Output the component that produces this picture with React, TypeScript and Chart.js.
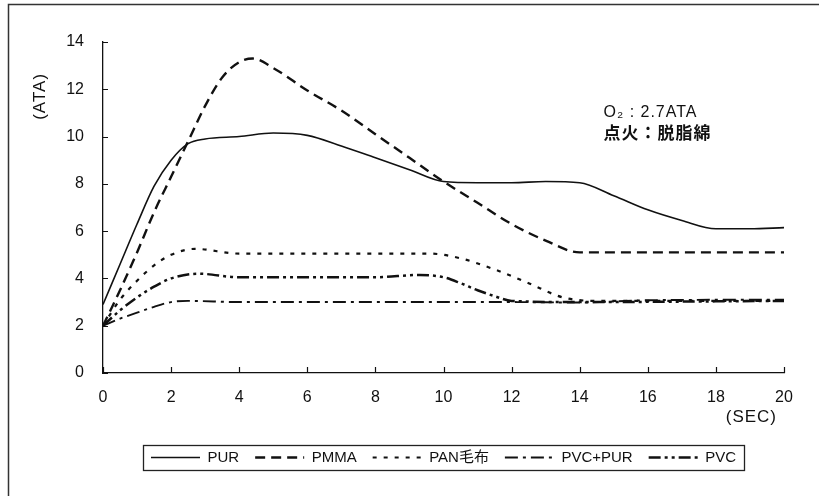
import React, { useEffect, useRef } from "react";
import { Chart, registerables } from "chart.js";

Chart.register(...registerables);

// ---------- data ----------
const SERIES_NAMES = ["PUR", "PMMA", "PAN毛布", "PVC+PUR", "PVC"];

const X_PUR = [0, 0.5, 1, 1.5, 2, 2.5, 3, 4, 5, 6, 7, 8, 9, 10, 11, 12, 13, 14, 15, 16, 17, 18, 19, 20];
const Y_PUR = [2.9, 4.6, 6.3, 7.9, 9.0, 9.7, 9.9, 10.0, 10.15, 10.05, 9.6, 9.1, 8.6, 8.1, 8.05, 8.05, 8.1, 8.05, 7.5, 6.9, 6.45, 6.1, 6.1, 6.15];

const X_PMMA = [0, 0.5, 1, 1.5, 2, 2.5, 3, 3.5, 4, 4.4, 5, 6, 7, 8, 9, 10, 11, 12, 13, 14, 15, 16, 17, 18, 19, 20];
const Y_PMMA = [2.0, 3.5, 5.1, 6.8, 8.3, 9.8, 11.3, 12.5, 13.15, 13.3, 12.9, 11.95, 11.1, 10.1, 9.1, 8.1, 7.2, 6.3, 5.6, 5.1, 5.1, 5.1, 5.1, 5.1, 5.1, 5.1];

const X_PAN = [0, 0.5, 1, 1.5, 2, 2.7, 4, 6, 8, 9.6, 10.5, 11.5, 12.5, 13.5, 14.5, 20];
const Y_PAN = [2.0, 3.1, 3.9, 4.55, 5.0, 5.25, 5.05, 5.05, 5.05, 5.05, 4.85, 4.38, 3.8, 3.2, 3.05, 3.05];

const X_PVCPUR = [0, 0.5, 1, 1.5, 2, 2.5, 4, 8, 12, 14, 16, 20];
const Y_PVCPUR = [2.0, 2.3, 2.55, 2.8, 3.0, 3.05, 3.0, 3.0, 3.0, 2.98, 3.08, 3.1];

const X_PVC = [0, 0.5, 1, 1.5, 2, 2.8, 4, 6, 8, 9.3, 10, 10.5, 11, 11.5, 12, 14, 20];
const Y_PVC = [2.0, 2.65, 3.2, 3.65, 4.0, 4.2, 4.05, 4.05, 4.05, 4.15, 4.05, 3.8, 3.5, 3.25, 3.05, 3.0, 3.05];

const X_TICK_VALUES = [0, 2, 4, 6, 8, 10, 12, 14, 16, 18, 20];
const Y_TICK_VALUES = [0, 2, 4, 6, 8, 10, 12, 14];

const Y_TITLE = "(ATA)";
const X_TITLE = "(SEC)";
const NOTE_LINE_1 = "O₂ : 2.7ATA";
const NOTE_LINE_2 = "点火：脱脂綿";

// ---------- styles ----------
const FONT = "'Liberation Sans', 'Noto Sans CJK JP', sans-serif";
const CJK = "'Noto Sans CJK JP', 'Liberation Sans', sans-serif";
const INK = "#111111";

const pts = (xs: number[], ys: number[]) => xs.map((x, i) => ({ x, y: ys[i] }));

const decorPlugin = {
  id: "decor",
  beforeDraw(chart: any) {
    const { ctx, width, height } = chart;
    ctx.save();
    ctx.fillStyle = "#ffffff";
    ctx.fillRect(0, 0, width, height);
    ctx.strokeStyle = "#333";
    ctx.lineWidth = 1.5;
    ctx.beginPath();
    ctx.moveTo(8.5, height + 2);
    ctx.lineTo(8.5, 4.5);
    ctx.lineTo(width + 2, 4.5);
    ctx.stroke();
    ctx.restore();
  },
  afterDraw(chart: any) {
    const { ctx, chartArea } = chart;
    const xs = chart.scales.x;
    const ys = chart.scales.y;
    ctx.save();
    ctx.strokeStyle = INK;
    ctx.lineWidth = 1.2;
    ctx.setLineDash([]);
    // inward tick marks
    ctx.beginPath();
    Y_TICK_VALUES.forEach((v) => {
      const py = Math.round(ys.getPixelForValue(v)) + 0.5;
      ctx.moveTo(chartArea.left, py);
      ctx.lineTo(chartArea.left + 5, py);
    });
    X_TICK_VALUES.forEach((v) => {
      const px = Math.round(xs.getPixelForValue(v)) + 0.5;
      ctx.moveTo(px, chartArea.bottom);
      ctx.lineTo(px, chartArea.bottom - 6);
    });
    ctx.stroke();

    // axis titles
    ctx.fillStyle = INK;
    ctx.font = `17px ${FONT}`;
    try { (ctx as any).letterSpacing = "1px"; } catch (e) {}
    ctx.textAlign = "center";
    ctx.textBaseline = "middle";
    ctx.save();
    ctx.translate(40, ys.getPixelForValue(11.7));
    ctx.rotate(-Math.PI / 2);
    ctx.fillText(Y_TITLE, 0, 0);
    ctx.restore();
    ctx.textAlign = "right";
    ctx.fillText(X_TITLE, xs.getPixelForValue(20) - 7, chartArea.bottom + 44);

    // note
    ctx.textAlign = "left";
    ctx.font = `16px ${FONT}`;
    ctx.fillText(NOTE_LINE_1, xs.getPixelForValue(14.7), ys.getPixelForValue(11.0));
    ctx.font = `bold 17px ${CJK}`;
    ctx.fillText(NOTE_LINE_2, xs.getPixelForValue(14.7), ys.getPixelForValue(10.15));
    try { (ctx as any).letterSpacing = "0px"; } catch (e) {}

    // legend frame
    const lg = chart.legend;
    if (lg && lg.legendHitBoxes && lg.legendHitBoxes.length) {
      const boxes = lg.legendHitBoxes;
      const l = Math.min(...boxes.map((b: any) => b.left)) - 8;
      const r = Math.max(...boxes.map((b: any) => b.left + b.width)) + 8;
      const t = Math.min(...boxes.map((b: any) => b.top)) - 5;
      const btm = Math.max(...boxes.map((b: any) => b.top + b.height)) + 5;
      ctx.lineWidth = 1.3;
      ctx.strokeStyle = "#222";
      ctx.strokeRect(Math.round(l) + 0.5, Math.round(t) + 0.5, Math.round(r - l), Math.round(btm - t));
    }
    ctx.restore();
  },
};

export default function App() {
  const ref = useRef<HTMLCanvasElement | null>(null);

  useEffect(() => {
    if (!ref.current) return;
    const mk = (i: number, xs: number[], ys: number[], dash: number[], w: number) => ({
      label: SERIES_NAMES[i],
      data: pts(xs, ys),
      borderColor: INK,
      backgroundColor: INK,
      borderWidth: w,
      borderDash: dash,
      pointRadius: 0,
      fill: false,
      cubicInterpolationMode: "monotone" as const,
      pointStyle: "line" as const,
    });
    const defaultLabels = (Chart.defaults as any).plugins.legend.labels.generateLabels;
    const chart = new Chart(ref.current, {
      type: "line",
      data: {
        datasets: [
          mk(0, X_PUR, Y_PUR, [], 1.6),
          mk(1, X_PMMA, Y_PMMA, [10, 6], 2.4),
          mk(2, X_PAN, Y_PAN, [4, 7], 2.2),
          mk(3, X_PVCPUR, Y_PVCPUR, [13, 5, 3, 5], 1.9),
          mk(4, X_PVC, Y_PVC, [12, 4, 3, 4, 3, 4], 2.5),
        ],
      },
      plugins: [decorPlugin],
      options: {
        animation: false,
        responsive: false,
        maintainAspectRatio: false,
        layout: { padding: { left: 10, right: 35, top: 42, bottom: 21 } },
        plugins: {
          tooltip: { enabled: false },
          title: { display: false },
          legend: {
            display: true,
            position: "bottom",
            fullSize: false,
            labels: {
              color: INK,
              font: { family: FONT, size: 15 },
              usePointStyle: true,
              pointStyle: "line",
              pointStyleWidth: 49,
              padding: 16,
              generateLabels: (c: any) =>
                defaultLabels(c).map((item: any) => {
                  const ds = c.data.datasets[item.datasetIndex];
                  return { ...item, lineDash: ds.borderDash, lineWidth: ds.borderWidth, strokeStyle: INK };
                }),
            },
          },
        },
        scales: {
          x: {
            type: "linear",
            min: 0,
            max: 20,
            afterBuildTicks: (s: any) => {
              s.ticks = X_TICK_VALUES.map((v) => ({ value: v }));
            },
            afterFit: (s: any) => {
              s.height = 61;
            },
            ticks: { color: INK, font: { family: FONT, size: 16 }, padding: 15, maxRotation: 0, autoSkip: false },
            grid: { display: true, drawOnChartArea: false, drawTicks: false, color: INK },
            border: { display: true, color: INK, width: 1.3 },
          },
          y: {
            type: "linear",
            min: 0,
            max: 14,
            afterBuildTicks: (s: any) => {
              s.ticks = Y_TICK_VALUES.map((v) => ({ value: v }));
            },
            afterFit: (s: any) => {
              s.width = 93;
            },
            ticks: { color: INK, font: { family: FONT, size: 16 }, padding: 19 },
            grid: { display: true, drawOnChartArea: false, drawTicks: false, color: INK },
            border: { display: true, color: INK, width: 1.3 },
          },
        },
      },
    });
    return () => chart.destroy();
  }, []);

  return (
    <div style={{ position: "fixed", left: 0, top: 0, width: 819, height: 496, background: "#fff" }}>
      <canvas ref={ref} width={819} height={496} style={{ display: "block", width: 819, height: 496 }} />
    </div>
  );
}
